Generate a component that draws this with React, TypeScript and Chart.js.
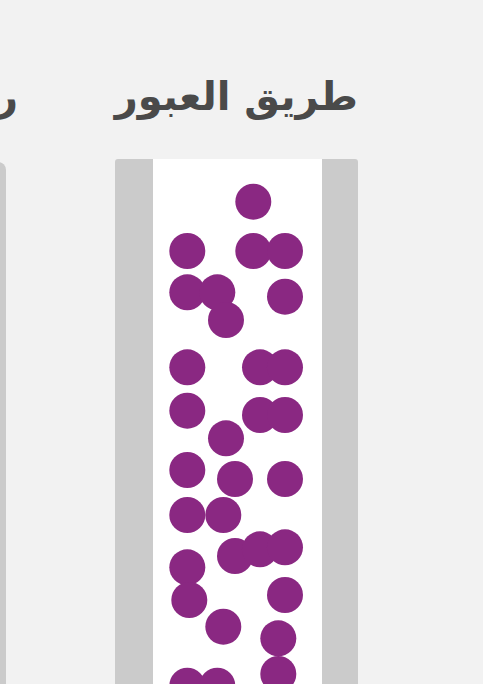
import React, { useEffect, useRef } from "react";
import { Chart, registerables } from "chart.js";

Chart.register(...registerables);

// Title of the visible lane and the clipped neighbouring lane
const laneTitle = "طريق العبور";
const neighbourTitle = "رصيف";

// Pedestrian positions: lateral offset across the lane (0–169) and distance along it (0–560)
const crossX = [
  100.3, 34.3, 100.3, 132, 34.3, 64.3, 132, 73, 34.3, 107, 132, 34.3, 107, 132, 73, 34.3,
  82, 132, 34.3, 70.3, 82, 107, 132, 34.3, 36.3, 132, 70.3, 125.3, 125.3, 34.3, 64.3,
];
const alongY = [
  42.7, 92, 92, 92, 133.3, 133.3, 137.7, 161, 208.3, 208.3, 208.3, 251.7, 256, 256, 279.3, 311,
  320, 320, 356, 356, 397, 390.3, 388.3, 408.3, 441, 436, 467.7, 479.3, 515, 526.7, 526.7,
];

const LANE_W = 169;
const LANE_H = 560;

export default function App() {
  const ref = useRef<HTMLCanvasElement | null>(null);

  useEffect(() => {
    if (!ref.current) return;
    const pts = crossX.map((x, i) => ({ x, y: alongY[i] }));
    const chart = new Chart(ref.current, {
      type: "scatter",
      data: {
        datasets: [
          {
            data: pts,
            backgroundColor: "#8a2882",
            borderWidth: 0,
            pointRadius: 18,
            pointHoverRadius: 18,
          },
        ],
      },
      options: {
        animation: false,
        responsive: false,
        devicePixelRatio: 1,
        layout: { padding: 0, autoPadding: false } as any,
        clip: false as any,
        events: [],
        scales: {
          x: { type: "linear", min: 0, max: LANE_W, display: false },
          y: { type: "linear", min: 0, max: LANE_H, reverse: true, display: false },
        },
        plugins: { legend: { display: false }, tooltip: { enabled: false } },
      },
    });
    return () => chart.destroy();
  }, []);

  const titleStyle: React.CSSProperties = {
    position: "absolute",
    fontFamily: "'DejaVu Sans', sans-serif",
    fontWeight: "bold",
    fontSize: 40,
    lineHeight: "48px",
    color: "#4a4a4a",
    whiteSpace: "nowrap",
    direction: "rtl",
  };

  return (
    <div
      style={{
        position: "fixed",
        left: 0,
        top: 0,
        width: 483,
        height: 684,
        overflow: "hidden",
        background: "#f2f2f2",
      }}
    >
      <div style={{ ...titleStyle, right: 465, top: 72, textAlign: "right" }}>{neighbourTitle}</div>
      <div style={{ ...titleStyle, left: 115, width: 243, top: 72, textAlign: "center" }}>{laneTitle}</div>
      <div
        style={{
          position: "absolute",
          left: -200,
          top: 162,
          width: 205.5,
          height: 700,
          background: "#cbcbcb",
          borderRadius: 8,
        }}
      />
      <div
        style={{
          position: "absolute",
          left: 115,
          top: 159,
          width: 243,
          height: 700,
          background: "#cbcbcb",
          borderRadius: 3,
        }}
      />
      <canvas
        ref={ref}
        width={LANE_W}
        height={LANE_H}
        style={{
          position: "absolute",
          left: 153,
          top: 159,
          width: LANE_W,
          height: LANE_H,
          background: "#ffffff",
        }}
      />
    </div>
  );
}
